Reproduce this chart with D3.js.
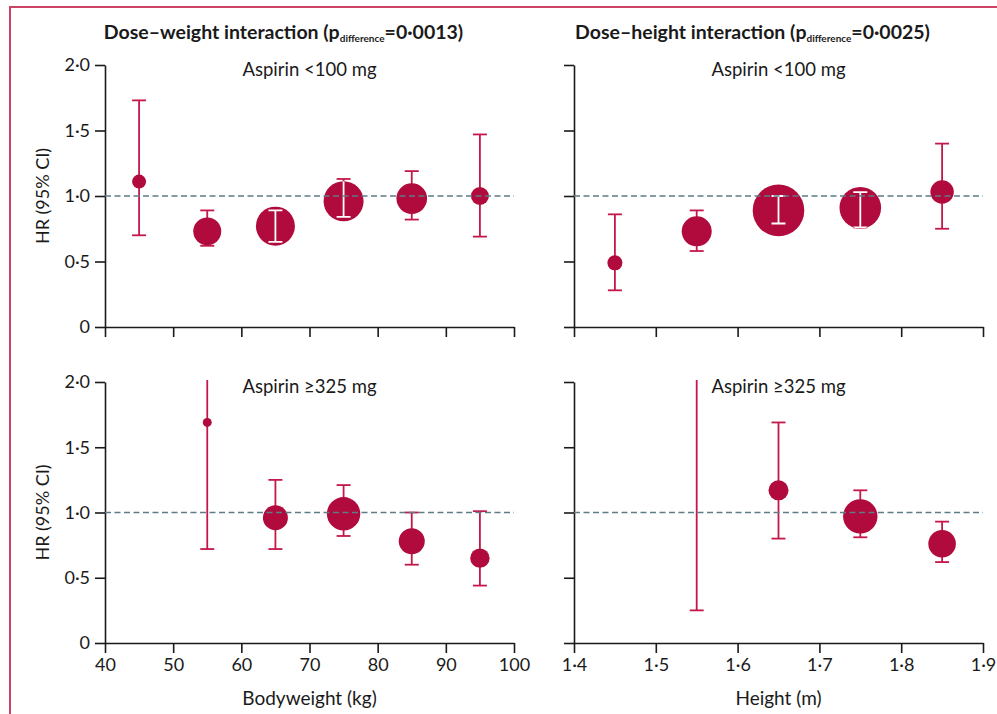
<!DOCTYPE html>
<html><head><meta charset="utf-8">
<script src="https://cdn.jsdelivr.net/npm/d3@7"></script>
<style>
body{margin:0;background:#fff}
svg{display:block}
text{font-family:Lato,"Liberation Sans",sans-serif;fill:#1a1a1a}
</style>
</head><body>
<svg id="chart" width="997" height="714"></svg>
<script>
// ---------- DATA ----------
const weightTicks = [40, 50, 60, 70, 80, 90, 100];
const heightTicks = [1.4, 1.5, 1.6, 1.7, 1.8, 1.9];
const hrTicks = [0, 0.5, 1.0, 1.5, 2.0];

const panelTitles = ["Dose\u2013weight interaction", "Dose\u2013height interaction"];
const pDifference = ["0\u00b70013", "0\u00b70025"];
const doseLabels = ["Aspirin <100 mg", "Aspirin \u2265325 mg"];
const xTitles = ["Bodyweight (kg)", "Height (m)"];
const yTitle = "HR (95% CI)";

// Aspirin <100 mg by bodyweight
const lowWeightX  = [45, 55, 65, 75, 85, 95];
const lowWeightHR = [1.11, 0.73, 0.77, 0.96, 0.98, 1.00];
const lowWeightLo = [0.70, 0.62, 0.65, 0.84, 0.82, 0.69];
const lowWeightHi = [1.73, 0.89, 0.89, 1.13, 1.19, 1.47];
const lowWeightWt = [7.4, 29.4, 57.1, 60.1, 35.2, 12.2];

// Aspirin <100 mg by height
const lowHeightX  = [1.45, 1.55, 1.65, 1.75, 1.85];
const lowHeightHR = [0.49, 0.73, 0.89, 0.91, 1.03];
const lowHeightLo = [0.28, 0.58, 0.79, 0.76, 0.75];
const lowHeightHi = [0.86, 0.89, 1.00, 1.03, 1.40];
const lowHeightWt = [8.5, 33.8, 100, 65, 20.6];

// Aspirin >=325 mg by bodyweight
const highWeightX  = [55, 65, 75, 85, 95];
const highWeightHR = [1.69, 0.96, 0.99, 0.78, 0.65];
const highWeightLo = [0.72, 0.72, 0.82, 0.60, 0.44];
const highWeightHi = [2.60, 1.25, 1.21, 1.00, 1.01];
const highWeightWt = [3.0, 23.5, 41.9, 25.4, 14.1];

// Aspirin >=325 mg by height (first HR lies above the plotted range)
const highHeightX  = [1.55, 1.65, 1.75, 1.85];
const highHeightHR = [null, 1.17, 0.97, 0.76];
const highHeightLo = [0.25, 0.80, 0.81, 0.62];
const highHeightHi = [3.00, 1.69, 1.17, 0.93];
const highHeightWt = [0, 15, 44.4, 28.6];

// ---------- DRAW ----------
const svg = d3.select("#chart");
const RED = "#b10a3c", BAR = "#c4184a", DASH = "#5e7c87", AXIS = "#1a1a1a";
const FS = 18;

svg.append("rect").attr("x", 10).attr("y", 7).attr("width", 1100).attr("height", 900)
  .attr("fill", "none").attr("stroke", "#cf4268").attr("stroke-width", 2);

const colX = [[105, 514], [574, 983]];
const rowY = [[327, 65], [643, 382]];
const xDomains = [[40, 100], [1.4, 1.9]];
const xTickSets = [weightTicks, heightTicks];
const rScale = d3.scaleSqrt().domain([0, 100]).range([0, 25.8]);

const hrFmt = d => d === 0 ? "0" : d3.format(".1f")(d).replace(".", "\u00b7");
const xFmts = [d => String(d), d => d3.format(".1f")(d).replace(".", "\u00b7")];

const panels = [
  {r:0,c:0,x:lowWeightX,hr:lowWeightHR,lo:lowWeightLo,hi:lowWeightHi,wt:lowWeightWt},
  {r:0,c:1,x:lowHeightX,hr:lowHeightHR,lo:lowHeightLo,hi:lowHeightHi,wt:lowHeightWt},
  {r:1,c:0,x:highWeightX,hr:highWeightHR,lo:highWeightLo,hi:highWeightHi,wt:highWeightWt},
  {r:1,c:1,x:highHeightX,hr:highHeightHR,lo:highHeightLo,hi:highHeightHi,wt:highHeightWt}
];

const defs = svg.append("defs");
let clipId = 0;

panels.forEach(p => {
  const x = d3.scaleLinear().domain(xDomains[p.c]).range(colX[p.c]);
  const y = d3.scaleLinear().domain([0, 2]).range(rowY[p.r]);
  const g = svg.append("g");

  // axes
  const yAx = d3.axisLeft(y).tickValues(hrTicks).tickSize(10).tickSizeOuter(0).tickPadding(5)
    .tickFormat(p.c === 0 ? hrFmt : () => "");
  const xAx = d3.axisBottom(x).tickValues(xTickSets[p.c]).tickSize(10).tickSizeOuter(0).tickPadding(5)
    .tickFormat(p.r === 1 ? xFmts[p.c] : () => "");
  const ya = g.append("g").attr("transform", `translate(${colX[p.c][0]},0)`).call(yAx);
  const xa = g.append("g").attr("transform", `translate(0,${rowY[p.r][0]})`).call(xAx);
  [ya, xa].forEach(a => {
    a.selectAll("path,line").attr("stroke", AXIS).attr("stroke-width", 1.6);
    a.selectAll("text").attr("font-size", FS).attr("fill", "#1a1a1a")
      .style("font-family", "Lato, 'Liberation Sans', sans-serif");
  });

  // data
  const data = p.x.map((v, i) => ({x: v, hr: p.hr[i], lo: p.lo[i], hi: p.hi[i], wt: p.wt[i]}));
  const cid = "plot" + (clipId++);
  defs.append("clipPath").attr("id", cid).append("rect")
    .attr("x", colX[p.c][0]).attr("y", y(2) - 2)
    .attr("width", colX[p.c][1] - colX[p.c][0]).attr("height", y(0) - y(2) + 2);
  const pg = g.append("g").attr("clip-path", `url(#${cid})`);

  const drawBar = (sel, d, col) => {
    const cx = x(d.x);
    sel.append("line").attr("x1", cx).attr("x2", cx).attr("y1", y(d.lo)).attr("y2", y(d.hi))
      .attr("stroke", col).attr("stroke-width", 1.8);
    [d.lo, d.hi].forEach(v => sel.append("line").attr("x1", cx - 7).attr("x2", cx + 7)
      .attr("y1", y(v)).attr("y2", y(v)).attr("stroke", col).attr("stroke-width", 1.8));
  };

  data.forEach(d => drawBar(pg, d, BAR));
  data.filter(d => d.hr !== null).forEach(d => {
    const r = rScale(d.wt);
    pg.append("circle").attr("cx", x(d.x)).attr("cy", y(d.hr)).attr("r", r).attr("fill", RED);
    if (y(d.lo) - y(d.hi) < 2 * r) {
      const id = "pt" + (clipId++);
      defs.append("clipPath").attr("id", id).append("circle")
        .attr("cx", x(d.x)).attr("cy", y(d.hr)).attr("r", r);
      drawBar(pg.append("g").attr("clip-path", `url(#${id})`), d, "#fff");
    }
  });

  // reference line
  g.append("line").attr("x1", colX[p.c][0]).attr("x2", colX[p.c][1])
    .attr("y1", y(1)).attr("y2", y(1))
    .attr("stroke", DASH).attr("stroke-width", 1.6).attr("stroke-dasharray", "6,3.5");

  // dose subtitle
  g.append("text").attr("x", (colX[p.c][0] + colX[p.c][1]) / 2).attr("y", y(2) + 11)
    .attr("text-anchor", "middle").attr("font-size", FS + 0.5).text(doseLabels[p.r]);

  if (p.c === 0) {
    g.append("text").attr("transform", `translate(49,${y(1)}) rotate(-90)`)
      .attr("text-anchor", "middle").attr("font-size", FS).text(yTitle);
  }
  if (p.r === 1) {
    g.append("text").attr("x", (colX[p.c][0] + colX[p.c][1]) / 2).attr("y", 705)
      .attr("text-anchor", "middle").attr("font-size", FS + 1).text(xTitles[p.c]);
  }
  if (p.r === 0) {
    const t = g.append("text").attr("x", (colX[p.c][0] + colX[p.c][1]) / 2 - 26).attr("y", 39)
      .attr("text-anchor", "middle").attr("font-size", 19.5).attr("font-weight", "bold");
    t.append("tspan").text(panelTitles[p.c] + " (p");
    t.append("tspan").attr("font-size", 10).attr("dy", 3).text("difference");
    t.append("tspan").attr("font-size", 19.5).attr("dy", -3).text("=" + pDifference[p.c] + ")");
  }
});
</script>
</body></html>
